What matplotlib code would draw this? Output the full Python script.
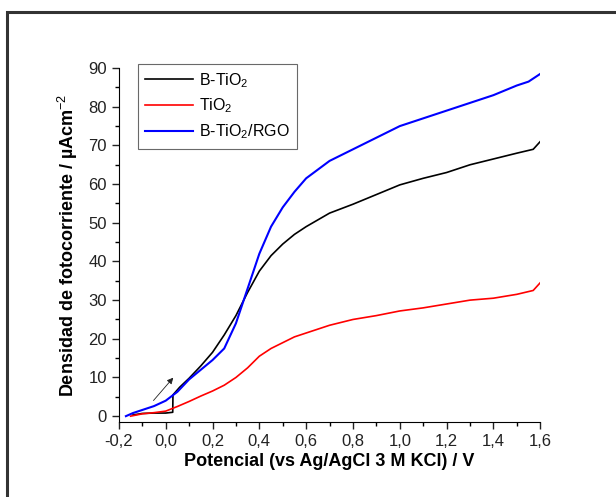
import matplotlib
matplotlib.use("Agg")
import matplotlib.pyplot as plt
from matplotlib.ticker import MultipleLocator, FuncFormatter
from matplotlib.patches import Rectangle

plt.rcParams["font.family"] = ["Liberation Sans", "DejaVu Sans"]
plt.rcParams["mathtext.fontset"] = "custom"
plt.rcParams["mathtext.rm"] = "Liberation Sans"
plt.rcParams["mathtext.bf"] = "Liberation Sans:bold"

# B-TiO2 (black) -- note the dark/light step at ~0.03 V
x_btio2 = [-0.14, -0.10, -0.05, 0.0, 0.03, 0.031, 0.06, 0.10, 0.15, 0.20, 0.25, 0.30, 0.35,
           0.40, 0.45, 0.50, 0.55, 0.60, 0.70, 0.80, 0.90, 1.00, 1.10, 1.20, 1.30,
           1.40, 1.50, 1.57, 1.60]
y_btio2 = [0.3, 0.7, 0.8, 0.8, 1.0, 5.5, 7.5, 9.8, 13.0, 16.5, 21.0, 26.0, 32.0,
           37.5, 41.5, 44.5, 47.0, 49.0, 52.5, 54.8, 57.3, 59.8, 61.5, 63.0, 65.0,
           66.5, 68.0, 69.0, 71.0]

# TiO2 (red)
x_tio2 = [-0.15, -0.10, -0.05, 0.0, 0.05, 0.10, 0.15, 0.20, 0.25, 0.30, 0.35, 0.40,
          0.45, 0.50, 0.55, 0.60, 0.70, 0.80, 0.90, 1.00, 1.10, 1.20, 1.30, 1.40,
          1.50, 1.57, 1.60]
y_tio2 = [0.0, 0.6, 0.9, 1.3, 2.5, 3.8, 5.2, 6.5, 8.0, 10.0, 12.5, 15.5,
          17.5, 19.0, 20.5, 21.5, 23.5, 25.0, 26.0, 27.2, 28.0, 29.0, 30.0, 30.5,
          31.5, 32.5, 34.5]

# B-TiO2/RGO (blue)
x_rgo = [-0.17, -0.14, -0.10, -0.05, 0.0, 0.05, 0.10, 0.15, 0.20, 0.25, 0.30, 0.35,
         0.40, 0.45, 0.50, 0.55, 0.60, 0.70, 0.80, 0.90, 1.00, 1.10, 1.20, 1.30,
         1.40, 1.50, 1.55, 1.60]
y_rgo = [0.0, 0.8, 1.6, 2.6, 4.0, 6.3, 9.5, 12.0, 14.5, 17.5, 24.0, 33.0,
         42.0, 49.0, 54.0, 58.0, 61.5, 66.0, 69.0, 72.0, 75.0, 77.0, 79.0, 81.0,
         83.0, 85.5, 86.5, 88.5]

fig = plt.figure(figsize=(6.16, 4.97), dpi=100)
ax = fig.add_axes([0.193, 0.151, 0.684, 0.712])

ax.plot(x_btio2, y_btio2, color="black", lw=1.2, label="B-TiO$_2$")
ax.plot(x_tio2, y_tio2, color="#ff0000", lw=1.2, label="TiO$_2$")
ax.plot(x_rgo, y_rgo, color="#0000ff", lw=1.5, label="B-TiO$_2$/RGO")

# scan direction arrow
ax.annotate("", xy=(0.04, 10.5), xytext=(-0.06, 3.5),
            arrowprops=dict(arrowstyle="-|>", color="#222", lw=0.6, mutation_scale=9))

ax.set_xlim(-0.2, 1.6)
ax.set_ylim(-1.5, 90)
ax.spines["top"].set_visible(False)
ax.spines["right"].set_visible(False)
ax.xaxis.set_major_locator(MultipleLocator(0.2))
ax.xaxis.set_minor_locator(MultipleLocator(0.1))
ax.yaxis.set_major_locator(MultipleLocator(10))
ax.yaxis.set_minor_locator(MultipleLocator(5))
ax.xaxis.set_major_formatter(FuncFormatter(lambda v, p: f"{v:.1f}".replace(".", ",")))
ax.tick_params(which="major", direction="out", length=5, width=1, labelsize=12, colors="#222")
ax.tick_params(which="minor", direction="out", length=3, width=1)

ax.set_xlabel("Potencial (vs Ag/AgCl 3 M KCl) / V", fontsize=13, fontweight="bold", labelpad=3)
ax.set_ylabel("Densidad de fotocorriente / \u00b5Acm$^{-2}$", fontsize=13, fontweight="bold", labelpad=6)

leg = ax.legend(loc="upper left", bbox_to_anchor=(0.026, 1.035), fontsize=11.5,
                frameon=True, fancybox=False, edgecolor="#444", handlelength=3.0,
                handletextpad=0.4, borderpad=0.45, labelspacing=0.45)
leg.get_frame().set_linewidth(0.8)

# outer frame around the figure
fig.patches.append(Rectangle((7 / 616, -0.05), 1.1, 1 - 12 / 497 + 0.05,
                             transform=fig.transFigure, fill=False,
                             edgecolor="#333", lw=2.2))

fig.savefig("out.png", dpi=100)
